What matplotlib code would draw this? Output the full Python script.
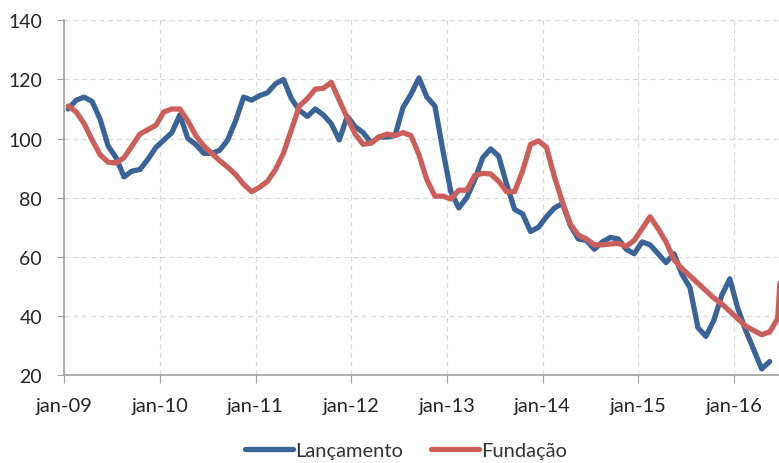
import matplotlib
matplotlib.use("Agg")
import matplotlib.pyplot as plt
import numpy as np

# rótulos do eixo x (um por ano, em janeiro)
anos = ["jan-09", "jan-10", "jan-11", "jan-12", "jan-13", "jan-14", "jan-15", "jan-16"]

# séries mensais a partir de jan-09
lancamento = [110, 113, 114, 112.5, 106.5, 97.5, 93.5, 87, 89, 89.5, 93, 97,
              99.5, 102, 108, 100, 98, 95, 95, 96, 99.5, 106, 114, 113,
              114.5, 115.5, 118.5, 120, 113.5, 109.5, 107.5, 110, 108, 105, 99.5, 107.5,
              104, 102, 98.5, 100.5, 100.5, 101, 110.5, 115, 120.5, 114, 111, 96,
              82, 76.5, 80, 86, 93.5, 96.5, 94, 84.5, 76, 74.5, 68.5, 70,
              73.5, 76.5, 78, 70.5, 66, 65.5, 62.5, 65, 66.5, 66, 62.5, 61,
              65, 64, 61, 58, 61, 54, 49.5, 36, 33, 38.5, 47, 52.5,
              42.5, 35, 28.5, 22, 24.5]

fundacao = [111, 109, 105, 99.5, 94.5, 92, 91.7, 93.5, 97.5, 101.5, 103, 104.5,
            109, 110, 110, 106, 101, 97.5, 95, 92.5, 90.3, 87.8, 84.5, 82,
            83.5, 85.5, 89.5, 95, 103, 111, 113.5, 116.7, 117, 119, 113, 107,
            101.5, 98, 98.5, 100.5, 101.5, 101, 102, 101, 94.5, 86, 80.5, 80.5,
            79.5, 82.5, 82.5, 87.5, 88.2, 88, 85.5, 82, 82, 89, 98, 99.2,
            97, 87, 78.5, 71, 67.3, 66, 64, 64, 64.3, 64.5, 63.5, 65.5,
            69.5, 73.5, 69.5, 65, 59, 56, 53.5, 51, 48.5, 46, 44, 41.5,
            39, 36.5, 35, 33.6, 34.5, 39, 80]

plt.rcParams['font.family'] = ['Lato', 'DejaVu Sans']

fig = plt.figure(figsize=(7.79, 4.64), dpi=100)
ax = fig.add_axes([0.0825, 0.19, 0.9175, 0.764])

azul = '#3A6498'
verm = '#CC5F5B'
ax.plot(np.arange(len(lancamento)), lancamento, color=azul, lw=3.8,
        solid_joinstyle='round', solid_capstyle='round', label='Lançamento', zorder=3)
ax.plot(np.arange(len(fundacao)), fundacao, color=verm, lw=3.8,
        solid_joinstyle='round', solid_capstyle='round', label='Fundação', zorder=3)

ax.set_xlim(-0.5, 89.17)
ax.set_ylim(20, 140)
ax.set_yticks(range(20, 141, 20))
ax.set_xticks(np.arange(len(anos)) * 12 - 0.5)
ax.set_xticklabels(anos)

ax.grid(True, color='#D9D9D9', linestyle=(0, (4, 3)), linewidth=0.9)
ax.set_axisbelow(True)
for s in ['top', 'right']:
    ax.spines[s].set_visible(False)
for s in ['left', 'bottom']:
    ax.spines[s].set_color('#A0A0A0')
    ax.spines[s].set_linewidth(1.2)

ax.tick_params(axis='x', length=6, color='#A0A0A0', pad=10, labelsize=14.5, labelcolor='#262626')
ax.tick_params(axis='y', length=5, color='#A0A0A0', pad=11, labelsize=14, labelcolor='#262626')

fig.legend(loc='center', bbox_to_anchor=(0.521, 0.026), ncol=2, frameon=False,
           fontsize=14.5, handlelength=2.4, handletextpad=0.1, columnspacing=1.4,
           labelcolor='#333333')

fig.savefig('out.png', dpi=100)
